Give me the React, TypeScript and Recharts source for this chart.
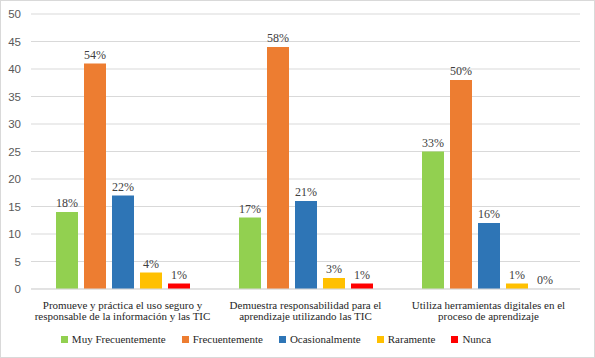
import React from "react";
import { BarChart, Bar, XAxis, YAxis, CartesianGrid, Legend, LabelList } from "recharts";

const categoryLines = [
  ["Promueve y práctica el uso seguro y", "responsable de la información y las TIC"],
  ["Demuestra responsabilidad para el", "aprendizaje utilizando las TIC"],
  ["Utiliza herramientas digitales en el", "proceso de aprendizaje"],
];
const categories = ["c1", "c2", "c3"];
const muyFrecuentemente = [14, 13, 25];
const frecuentemente = [41, 44, 38];
const ocasionalmente = [17, 16, 12];
const raramente = [3, 2, 1];
const nunca = [1, 1, 0];
const muyFrecuentementePct = ["18%", "17%", "33%"];
const frecuentementePct = ["54%", "58%", "50%"];
const ocasionalmentePct = ["22%", "21%", "16%"];
const raramentePct = ["4%", "3%", "1%"];
const nuncaPct = ["1%", "1%", "0%"];
const yTicks = [0, 5, 10, 15, 20, 25, 30, 35, 40, 45, 50];

const series = [
  { key: "mf", name: "Muy Frecuentemente", color: "#92D050", values: muyFrecuentemente, pct: muyFrecuentementePct },
  { key: "f", name: "Frecuentemente", color: "#ED7D31", values: frecuentemente, pct: frecuentementePct },
  { key: "o", name: "Ocasionalmente", color: "#2E75B6", values: ocasionalmente, pct: ocasionalmentePct },
  { key: "r", name: "Raramente", color: "#FFC000", values: raramente, pct: raramentePct },
  { key: "n", name: "Nunca", color: "#FF0000", values: nunca, pct: nuncaPct },
];

const data = categories.map((c, i) => {
  const row: any = { cat: c, idx: i };
  series.forEach((s) => {
    row[s.key] = s.values[i];
    row[s.key + "Pct"] = s.pct[i];
  });
  return row;
});

const serif = "Liberation Serif";

const XTick = (props: any) => {
  const { x, y, payload } = props;
  const lines = categoryLines[payload.index] || [];
  return (
    <g>
      {lines.map((l, i) => (
        <text
          key={i}
          x={x}
          y={y + 12 + i * 11}
          textAnchor="middle"
          style={{ fontFamily: serif, fontSize: 11 }}
          fill="#262626"
        >
          {l}
        </text>
      ))}
    </g>
  );
};

const LegendContent = () => (
  <div
    style={{
      height: 30,
      display: "flex",
      alignItems: "center",
      justifyContent: "center",
      paddingBottom: 8,
      paddingRight: 28,
      boxSizing: "border-box",
      fontFamily: serif,
      fontSize: 11,
      color: "#262626",
      gap: 16,
    }}
  >
    {series.map((s) => (
      <div key={s.key} style={{ display: "flex", alignItems: "center" }}>
        <span style={{ display: "inline-block", width: 7, height: 7, background: s.color, marginRight: 4 }} />
        <span>{s.name}</span>
      </div>
    ))}
  </div>
);

export default function App() {
  return (
    <div style={{ position: "absolute", left: 0, top: 0, width: 595, height: 358, background: "#fff" }}>
      <BarChart
        width={595}
        height={358}
        data={data}
        margin={{ top: 14, right: 15, left: 0, bottom: 0 }}
        barGap={6}
        barCategoryGap="13.4%"
      >
        <CartesianGrid vertical={false} stroke="#d9d9d9" />
        <XAxis
          dataKey="cat"
          axisLine={{ stroke: "#d9d9d9" }}
          tickLine={false}
          height={39}
          tick={<XTick />}
          interval={0}
        />
        <YAxis
          width={31}
          domain={[0, 50]}
          ticks={yTicks}
          axisLine={false}
          tickLine={false}
          tickMargin={4}
          tick={{ fontFamily: "Liberation Sans", fontSize: 11.5, fill: "#595959" }}
        />
        <Legend verticalAlign="bottom" content={<LegendContent />} />
        {series.map((s) => (
          <Bar
            key={s.key}
            dataKey={s.key}
            name={s.name}
            fill={s.color}
            barSize={22}
            minPointSize={0.01}
            isAnimationActive={false}
          >
            <LabelList
              dataKey={s.key + "Pct"}
              position="top"
              offset={5}
              style={{ fontFamily: serif, fontSize: 12, fill: "#404040" }}
            />
          </Bar>
        ))}
      </BarChart>
      <div
        style={{
          position: "absolute",
          left: 0,
          top: 0,
          width: 595,
          height: 358,
          border: "1px solid #d9d9d9",
          boxSizing: "border-box",
          pointerEvents: "none",
        }}
      />
    </div>
  );
}
